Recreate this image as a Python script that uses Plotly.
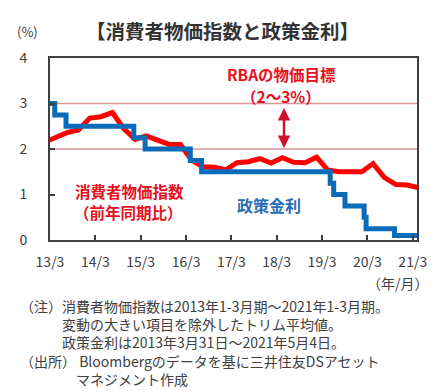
import plotly.graph_objects as go

# ---------------- data ----------------
cpi_dates = [
    "2013-02-15", "2013-05-15", "2013-08-15", "2013-11-15",
    "2014-02-15", "2014-05-15", "2014-08-15", "2014-11-15",
    "2015-02-15", "2015-05-15", "2015-08-15", "2015-11-15",
    "2016-02-15", "2016-05-15", "2016-08-15", "2016-11-15",
    "2017-02-15", "2017-05-15", "2017-08-15", "2017-11-15",
    "2018-02-15", "2018-05-15", "2018-08-15", "2018-11-15",
    "2019-02-15", "2019-05-15", "2019-08-15", "2019-11-15",
    "2020-02-15", "2020-05-15", "2020-08-15", "2020-11-15",
    "2021-02-15", "2021-05-15",
]
cpi_values = [
    2.15, 2.25, 2.36, 2.42,
    2.68, 2.71, 2.80, 2.45,
    2.21, 2.29, 2.20, 2.10,
    2.10, 1.75, 1.61, 1.60,
    1.54, 1.70, 1.72, 1.79,
    1.69, 1.81, 1.71, 1.70,
    1.82, 1.54, 1.50, 1.50,
    1.50, 1.68, 1.37, 1.22,
    1.21, 1.15,
]

rate_dates = [
    "2013-03-31", "2013-05-08", "2013-08-07", "2015-02-04", "2015-05-06",
    "2016-05-04", "2016-08-03", "2019-06-05", "2019-07-03", "2019-10-02",
    "2020-03-04", "2020-03-20", "2020-11-04", "2021-05-04",
]
rate_values = [3.00, 2.75, 2.50, 2.25, 2.00, 1.75, 1.50, 1.25, 1.00, 0.75,
               0.50, 0.25, 0.10, 0.10]

target_band = [2, 3]
arrow_date = "2018-05-29"

x_tickvals = ["2013-03-31", "2014-03-31", "2015-03-31", "2016-03-31", "2017-03-31",
              "2018-03-31", "2019-03-31", "2020-03-31", "2021-03-31"]
x_ticktext = ["13/3", "14/3", "15/3", "16/3", "17/3", "18/3", "19/3", "20/3", "21/3"]
y_tickvals = [0, 1, 2, 3, 4]
x_range = ["2013-03-31", "2021-05-04"]

title_text = "【消費者物価指数と政策金利】"
notes = [
    "（注）消費者物価指数は2013年1-3月期～2021年1-3月期。",
    "　　　変動の大きい項目を除外したトリム平均値。",
    "　　　政策金利は2013年3月31日～2021年5月4日。",
    "（出所） Bloombergのデータを基に三井住友DSアセット",
    "　　　　マネジメント作成",
]

# ---------------- style ----------------
FONT = "Noto Sans CJK JP"
GRAY = "#404040"
RED = "#ff0000"
RED_TXT = "#e8101e"
BLUE = "#0a6cb8"
BLUE_TXT = "#2a6db5"
PINK = "#d9959b"

W, H = 446, 392
L, R, T, B = 50, 417, 58, 240


def px(x):
    return (x - L) / (R - L)


def py(y):
    return (B - y) / (B - T)


fig = go.Figure()

fig.add_trace(go.Scatter(
    x=cpi_dates, y=cpi_values, mode="lines",
    line=dict(color=RED, width=5), hoverinfo="skip",
))
fig.add_trace(go.Scatter(
    x=rate_dates, y=rate_values, mode="lines", line_shape="hv",
    line=dict(color=BLUE, width=5), hoverinfo="skip",
))

for yv in target_band:
    fig.add_shape(type="line", xref="paper", yref="y", x0=0, x1=1, y0=yv, y1=yv,
                  line=dict(color=PINK, width=1.5), layer="below")


def label(text, x, y, color, size=15.5, bold=True):
    t = "<b>" + text + "</b>" if bold else text
    return dict(x=px(x), y=py(y), xref="paper", yref="paper", text=t,
                showarrow=False, font=dict(family=FONT, size=size, color=color),
                xanchor="center", yanchor="middle")


annotations = [
    dict(x=arrow_date, y=target_band[0], ax=arrow_date, ay=target_band[1],
         xref="x", yref="y", axref="x", ayref="y", text="", showarrow=True,
         arrowhead=2, arrowside="end+start", arrowsize=1, arrowwidth=2.5,
         arrowcolor="#d0102a", standoff=1, startstandoff=3),
    label("(%)", 27, 31, GRAY, size=13, bold=False),
    label(title_text, 222, 30, "#333333", size=19.5),
    label("RBAの物価目標", 281, 74, RED_TXT),
    label("（2～3%）", 281, 95.5, RED_TXT),
    label("消費者物価指数", 129, 191, RED_TXT),
    label("（前年同期比）", 128, 212, RED_TXT),
    label("政策金利", 269, 205, BLUE_TXT, size=16),
    dict(x=px(431), y=py(283), xref="paper", yref="paper", text="（年/月）",
         showarrow=False, font=dict(family=FONT, size=14, color=GRAY),
         xanchor="right", yanchor="middle"),
    dict(x=px(18), y=py(342), xref="paper", yref="paper", text="<br>".join(notes),
         showarrow=False, align="left",
         font=dict(family=FONT, size=14, color=GRAY), xanchor="left", yanchor="middle"),
]

fig.update_layout(
    width=W, height=H,
    margin=dict(l=L, r=W - R, t=T, b=H - B, pad=0),
    paper_bgcolor="white", plot_bgcolor="white",
    showlegend=False,
    font=dict(family=FONT, size=14, color=GRAY),
    annotations=annotations,
)
fig.update_xaxes(
    type="date", range=x_range, tickvals=x_tickvals, ticktext=x_ticktext,
    ticks="inside", ticklen=5, tickwidth=1.5, tickcolor=GRAY,
    showline=True, linewidth=2, linecolor=GRAY, mirror=True,
    showgrid=False, zeroline=False, ticklabelstandoff=8,
    tickfont=dict(family=FONT, size=14, color=GRAY),
)
fig.update_yaxes(
    range=[0, 4], tickvals=y_tickvals,
    ticks="inside", ticklen=5, tickwidth=1.5, tickcolor=GRAY,
    showline=True, linewidth=2, linecolor=GRAY, mirror=True,
    showgrid=False, zeroline=False, ticklabelstandoff=18,
    tickfont=dict(family=FONT, size=14, color=GRAY),
)

fig.write_html("out.html", config={"displayModeBar": False},
               post_script="document.body.style.margin='0';")
